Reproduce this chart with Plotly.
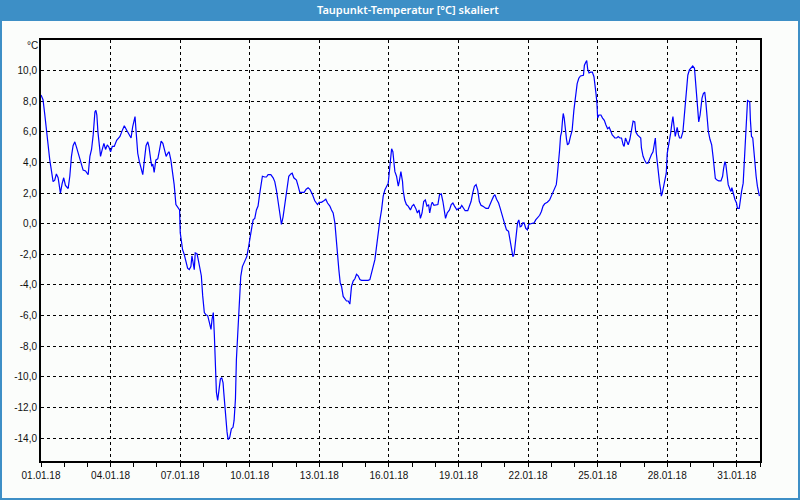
import datetime as dt
import plotly.graph_objects as go

title_text = "Taupunkt-Temperatur [°C] skaliert"
unit_label = "°C"
start = dt.datetime(2018, 1, 1)

hours = [
    0, 2.1, 3.8, 5.5, 7.3, 9.0, 10.7, 12.5, 14.2, 15.9, 17.7, 18.7, 20.1, 21.8, 23.5, 25.3, 28.1, 29.8,
    31.5, 33.2, 35.0, 36.7, 38.4, 40.2, 41.9, 43.6, 46.1, 48.8, 50.6, 52.3, 54.0, 55.8, 56.8, 57.8,
    58.9, 60.3, 61.6, 63.4, 65.1, 66.8, 68.6, 70.3, 72.0, 73.8, 75.8, 78.3, 81.7, 83.5, 86.2, 88.7,
    91.1, 93.2, 94.9, 96.3, 97.3, 98.3, 100.1, 101.8, 103.5, 105.3, 107.0, 108.7, 110.5, 111.8, 113.6,
    114.6, 115.7, 117.1, 118.8, 120.9, 122.6, 124.3, 126.1, 127.8, 129.5, 131.2, 132.6, 134.4, 136.1,
    137.8, 139.6, 141.6, 143.4, 144.1, 145.1, 146.5, 148.2, 149.9, 151.7, 153.4, 155.1, 156.2, 157.2,
    158.6, 159.6, 161.4, 162.4, 164.1, 165.9, 167.3, 169.0, 170.7, 172.5, 174.2, 175.9, 177.0, 178.3,
    179.4, 180.4, 181.5, 182.8, 183.9, 185.6, 187.0, 188.4,
    189.1, 190.8, 192.5, 193.6, 195.3, 197.0, 198.7, 199.8, 201.2, 202.2, 203.9, 205.3, 206.7, 208.4,
    210.8, 212.9, 214.3, 216.0, 217.7, 219.5, 221.2, 222.9, 224.6, 226.4, 228.1, 229.1, 231.5, 233.3,
    235.0, 237.8, 240.2, 241.9, 243.6, 245.4, 247.1, 248.8, 250.5, 252.3, 254.0, 256.4, 258.5, 259.9,
    261.6, 264.3, 266.1, 267.8, 270.2, 272.3, 274.4, 276.4, 278.2, 280.6, 283.3, 286.1, 287.8, 290.2,
    292.7, 294.7, 296.5, 298.9, 300.6, 302.3, 304.1, 305.4, 306.8, 308.2, 309.6, 311.0, 312.7, 314.4,
    316.1, 317.9, 319.6, 321.3, 323.0, 324.8, 326.5, 328.2, 330.0, 331.7, 335.1, 338.6, 340.3, 342.0,
    343.8, 345.5, 347.2, 348.9, 350.7, 352.4, 354.1, 355.8, 357.6, 359.3, 360.3, 361.7, 362.8, 364.1,
    365.2, 366.2, 367.9, 369.7, 370.7, 372.4, 374.1,
    374.7, 376.4, 378.1, 379.9, 382.3, 384.0, 385.7, 387.8, 389.5, 391.2, 392.6, 394.3, 396.0, 397.7,
    399.4, 401.1, 402.2, 403.9, 404.9, 406.6, 409.0, 410.7, 412.4, 414.2, 415.9, 417.6, 418.6, 420.3,
    422.7, 424.5, 426.2, 427.9, 430.3, 432.0, 433.7, 435.4, 437.1, 438.9, 441.6, 443.3, 445.0, 446.7,
    448.5, 450.2, 451.9, 453.6, 455.3, 457.0, 458.8, 460.5, 462.9, 464.9, 466.6, 468.4, 469.7, 471.4,
    473.5, 475.2, 476.9, 478.6, 480.0, 481.7, 483.8, 485.2, 486.2, 487.2, 488.3, 489.6, 490.7, 491.7,
    493.1, 494.4, 495.8, 497.2, 498.5, 499.9, 501.6, 503.3, 504.7, 506.8, 510.2, 511.9, 513.6, 516.0,
    517.8, 519.5, 521.2, 523.9, 526.3, 528.0, 529.8, 531.5, 533.2, 534.2, 535.2, 536.6, 537.6, 538.7,
    539.7, 540.4, 541.4, 542.4, 543.8, 544.8, 546.2, 547.9, 549.6, 551.4, 553.1, 554.8, 556.5, 558.2,
    561.3, 562.3, 563.7, 564.7, 565.7, 567.1, 568.8, 570.5, 572.2, 573.3, 574.3, 575.3, 576.0, 577.4,
    579.4, 581.1, 582.9, 584.6, 586.3, 588.0, 589.4, 591.1, 592.5, 593.8, 595.6, 597.3, 599.0, 600.7,
    602.4, 603.4, 604.8, 606.5, 607.6, 609.3, 611.0, 612.7, 614.4, 615.4, 617.2, 618.9, 620.6, 621.3,
    623.0, 624.7, 626.4, 628.1, 629.9, 631.6, 633.3, 634.3, 635.7, 636.7, 637.7, 639.1, 640.1, 641.2,
    641.9, 642.9, 644.3, 646.0, 647.0, 648.0, 649.4, 650.4, 651.5, 652.8, 653.9, 654.9, 656.3, 657.3,
    658.3, 659.7, 660.7, 662.4, 664.2, 665.2, 666.6, 667.9, 669.3, 671.0, 672.7, 674.4, 676.2, 677.2,
    678.6, 679.6, 680.6, 682.0, 683.0, 684.0, 685.4, 686.8, 687.8, 689.2, 690.6, 692.3, 694.0, 695.4,
    696.7, 697.8, 699.5, 701.2, 703.6, 705.3, 706.3, 707.7, 708.7, 709.8, 711.1, 712.9, 713.9, 714.9,
    716.3, 718.0, 719.7, 720.7, 722.5, 723.5, 724.9, 726.6, 727.6, 728.6, 730.0, 731.1, 732.4, 733.4,
    734.1, 735.2, 736.5, 737.6, 738.6, 740.0, 741.3, 742.4, 743.4,
]

dew_point = [
    8.4, 8.1, 7.2, 6.1, 5.0, 4.2, 3.5, 2.75, 2.85, 3.25, 3.0, 2.4, 2.0, 2.6, 3.0, 2.5, 2.3, 3.1,
    4.4, 5.1, 5.35, 5.0, 4.6, 4.3, 3.95, 3.5, 3.45, 3.2, 4.4, 4.85, 5.8, 7.3, 7.4, 7.1,
    6.0, 4.85, 4.4, 4.85, 5.25, 4.85, 5.15, 5.0, 4.7, 5.05, 5.05, 5.45, 5.7, 6.0, 6.4, 6.1,
    5.8, 5.6, 6.35, 6.9, 7.0, 6.1, 4.6, 4.05, 3.6, 3.2, 4.15, 5.1, 5.35, 5.0, 4.15,
    3.75, 3.9, 3.35, 4.15, 4.25, 4.8, 5.4, 5.25, 4.8, 4.4, 4.6, 4.7, 4.15, 3.4,
    2.55, 1.25, 1.1, 0.9, -0.6, -1.05, -1.7, -2.0, -2.55, -2.9, -3.0, -2.8, -2.1, -2.55,
    -3.0, -1.9, -1.95, -2.25, -2.8, -3.4, -4.7, -5.8, -5.95, -6.0, -6.45, -6.9, -6.25, -5.8,
    -7.3, -9.05, -11.0, -11.55, -10.8, -10.15, -10.05, -10.4,
    -11.0, -12.55, -13.6, -14.1, -13.95, -13.4, -13.3, -12.85, -11.45, -8.85, -6.7, -4.3, -3.45, -2.8,
    -2.45, -2.15, -1.7, -1.15, -0.4, 0.25, 0.35, 0.9, 1.15, 2.0, 2.85, 3.1, 3.05, 3.05,
    3.2, 3.2, 3.0, 2.75, 2.2, 1.35, 0.45, -0.05, 0.45, 1.35, 2.2, 3.1, 3.25, 3.3,
    3.0, 2.85, 2.45, 2.05, 2.05, 2.05, 2.25, 2.35, 2.25, 1.95, 1.5, 1.25, 1.4, 1.4,
    1.5, 1.6, 1.35, 1.15, 0.9, 0.7, 0.05, -1.05, -2.1, -3.0, -3.85, -4.1, -4.75, -4.9,
    -5.05, -5.05, -5.25, -4.1, -3.75, -3.6, -3.3, -3.4, -3.65, -3.7, -3.7, -3.7, -3.65, -3.2,
    -2.9, -2.35, -1.5, -0.5, 0.25, 0.9, 1.8, 2.2, 2.45, 2.65, 3.3, 4.15, 4.9, 4.7,
    4.05, 3.4, 3.1, 2.45, 2.75, 3.4, 2.75,
    2.2, 1.55, 1.25, 1.15, 0.9, 1.15, 1.25, 1.0, 0.7, 0.9, 0.35, 0.7, 1.45, 1.55,
    1.15, 1.25, 0.7, 1.25, 1.4, 1.2, 1.25, 1.25, 1.9, 1.95, 1.45, 0.8, 0.35, 0.7,
    0.9, 1.25, 1.35, 1.15, 0.9, 1.0, 1.0, 1.2, 1.0, 0.85, 0.85, 1.15, 1.45, 2.0,
    2.45, 2.55, 2.2, 1.45, 1.2, 1.15, 1.1, 1.0, 1.0, 1.25, 1.55, 1.8, 1.9, 1.6,
    1.35, 1.0, 0.55, 0.25, -0.05, -0.4, -0.5, -1.05, -1.6, -2.0, -2.15, -2.0, -1.3, -0.4,
    0.05, 0.25, -0.2, -0.15, 0.05, 0.05, -0.3, -0.4, -0.05, 0.0, 0.05, 0.25, 0.4, 0.55,
    0.8, 1.15, 1.3, 1.4, 1.55, 1.8, 2.0, 2.2, 2.55, 3.1, 3.7, 4.8, 5.7, 6.0,
    6.8, 7.2, 6.9, 6.15, 5.5, 5.15, 5.25, 5.7, 6.1, 7.4, 8.3, 9.15, 9.5, 9.65,
    9.7, 10.35, 10.55, 10.65, 10.1, 9.85, 9.9, 9.9, 9.6, 9.15, 8.5, 7.85, 6.9, 7.1,
    7.1, 6.9, 6.75, 6.45, 6.2, 6.3, 6.0, 5.8, 5.7, 5.6, 5.6, 5.7, 5.6, 5.6,
    5.15, 5.05, 5.6, 5.25, 5.15, 5.5, 6.1, 6.7, 6.65, 6.0, 5.8, 5.7, 5.6, 4.95,
    4.4, 4.15, 3.95, 3.95, 4.3, 4.5, 4.7, 5.15, 5.6, 4.6, 3.95, 3.1, 2.65, 2.2,
    1.8, 2.0, 2.45, 2.75, 3.3, 4.6, 5.05, 5.35, 5.9, 6.55, 7.0, 6.45, 5.7, 6.0,
    6.3, 5.8, 5.6, 5.6, 6.0, 6.7, 7.85, 8.95, 9.7, 10.05, 10.15, 10.3, 10.15, 9.4,
    8.3, 7.4, 6.65, 7.1, 7.65, 8.2, 8.5, 8.6, 8.05, 6.95, 6.0, 5.5, 5.15, 4.4,
    3.6, 2.95, 2.85, 2.8, 2.8, 3.1, 3.6, 4.05, 3.85, 3.1, 2.55, 2.25, 2.1, 2.35,
    1.9, 1.6, 1.35, 1.0, 1.0, 1.6, 2.1, 2.65, 3.95, 5.6, 7.0, 8.05, 8.0, 7.95,
    6.75, 5.7, 5.6, 4.6, 3.7, 3.1, 2.45, 2.0, 1.8,
]

y_ticks = [-14, -12, -10, -8, -6, -4, -2, 0, 2, 4, 6, 8, 10]
y_tick_text = ["-14,0", "-12,0", "-10,0", "-8,0", "-6,0", "-4,0", "-2,0", "0,0",
               "2,0", "4,0", "6,0", "8,0", "10,0"]

times = [start + dt.timedelta(hours=h) for h in hours]

W, H = 800, 500
L, R, T, B = 41, 760, 40, 461
BLUE = "#3d8fc6"
FONT = "Liberation Sans"


def px(x):
    return (x - L) / (R - L)


def py(y):
    return (B - y) / (B - T)


fig = go.Figure()
fig.add_trace(go.Scatter(x=times, y=dew_point, mode="lines",
                         line=dict(color="#0000ff", width=1.2), hoverinfo="skip"))

fig.update_layout(
    width=W, height=H,
    margin=dict(l=L, r=W - R, t=T, b=H - B, pad=0),
    paper_bgcolor="#fbfdfb", plot_bgcolor="#fbfdfb",
    showlegend=False,
    font=dict(family=FONT, size=10, color="#111111"),
    xaxis=dict(
        range=[start, start + dt.timedelta(days=31)],
        tickmode="linear", tick0=start, dtick=3 * 86400000,
        tickformat="%d.%m.%y",
        showgrid=True, gridcolor="black", gridwidth=1, griddash="3px,3px",
        showline=True, linecolor="black", linewidth=2, mirror=True,
        ticks="outside", ticklen=4, tickcolor="black",
        minor=dict(dtick=86400000, tick0=start, ticks="outside", ticklen=4, tickcolor="black", showgrid=False),
        zeroline=False, tickfont=dict(family=FONT, size=10, color="#111111"),
    ),
    yaxis=dict(
        range=[-15.5, 12],
        tickmode="array", tickvals=y_ticks, ticktext=y_tick_text,
        showgrid=True, gridcolor="black", gridwidth=1, griddash="3px,3px",
        showline=True, linecolor="black", linewidth=2, mirror=True,
        ticks="", zeroline=False, tickfont=dict(family=FONT, size=10, color="#111111"),
    ),
    shapes=[
        dict(type="rect", xref="paper", yref="paper", x0=px(0), x1=px(W), y0=py(20), y1=py(0),
             fillcolor=BLUE, line=dict(width=0), layer="above"),
        dict(type="rect", xref="paper", yref="paper", x0=px(1), x1=px(W - 1), y0=py(H - 1), y1=py(20),
             fillcolor="rgba(0,0,0,0)", line=dict(color=BLUE, width=2), layer="above"),
    ],
    annotations=[
        dict(text=title_text, xref="paper", yref="paper", x=px(408), y=py(10),
             xanchor="center", yanchor="middle", showarrow=False,
             font=dict(family="Noto Sans", size=11, color="white", weight=600)),
        dict(text=unit_label, xref="paper", yref="paper", x=px(32), y=py(45),
             xanchor="center", yanchor="middle", showarrow=False,
             font=dict(family=FONT, size=10, color="#111111")),
    ],
)

fig.write_html("out.html")
